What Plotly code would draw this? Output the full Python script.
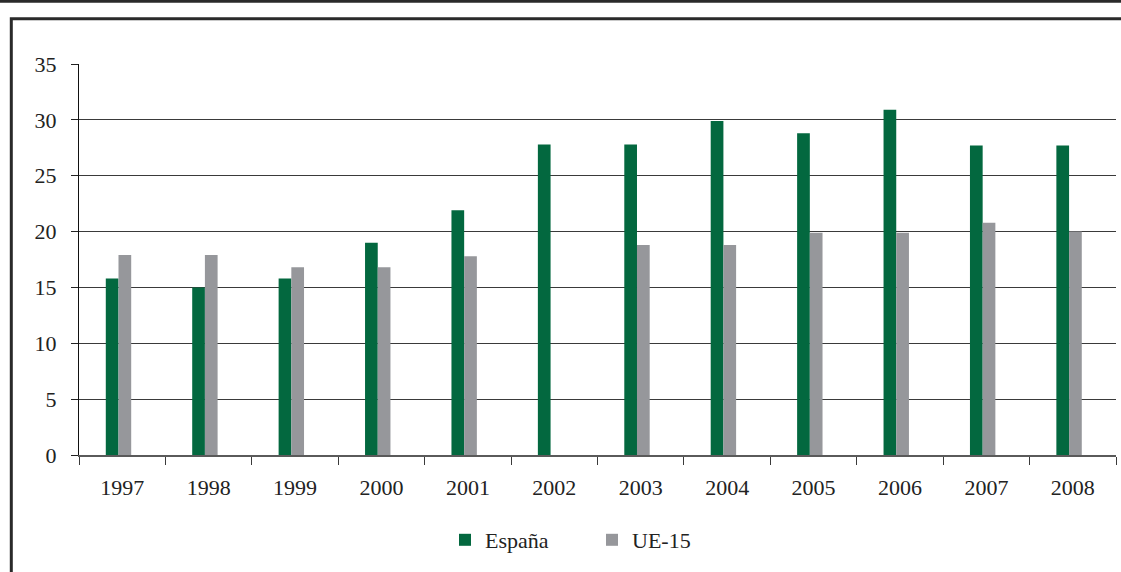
import plotly.graph_objects as go

years = ["1997", "1998", "1999", "2000", "2001", "2002", "2003", "2004",
         "2005", "2006", "2007", "2008"]
espana = [15.8, 15.0, 15.8, 19.0, 21.9, 27.8, 27.8, 29.9, 28.8, 30.9, 27.7, 27.7]
ue15 = [17.9, 17.9, 16.8, 16.8, 17.8, None, 18.8, 18.8, 19.9, 19.9, 20.8, 20.0]
series_names = ["España", "UE-15"]
y_ticks = [0, 5, 10, 15, 20, 25, 30, 35]

W, H = 1121, 572
L, R, T, B = 79, 5, 64, 117
PW, PH = W - L - R, H - T - B


def px(x):
    return (x - L) / PW


def py(y):
    return (H - B - y) / PH


FONT = "Liberation Serif"
FS = 22

fig = go.Figure()
fig.add_trace(go.Bar(x=years, y=espana, name=series_names[0],
                     marker=dict(color="#03683F", line=dict(width=0)),
                     width=0.147, offset=-0.19))
fig.add_trace(go.Bar(x=years, y=ue15, name=series_names[1],
                     marker=dict(color="#96979B", line=dict(width=0)),
                     width=0.147, offset=-0.043))

# decorative frame
fig.add_shape(type="line", xref="paper", yref="paper",
              x0=px(-5), x1=px(W + 5), y0=py(1.3), y1=py(1.3),
              line=dict(color="#2a2a2a", width=3))
fig.add_shape(type="path", xref="paper", yref="paper",
              path=f"M {px(11.3)} {py(H + 10)} L {px(11.3)} {py(18.7)} L {px(W + 10)} {py(18.7)}",
              line=dict(color="#2a2a2a", width=3))

fig.update_layout(
    width=W, height=H,
    margin=dict(l=L, r=R, t=T, b=B),
    paper_bgcolor="white", plot_bgcolor="white",
    barmode="overlay",
    font=dict(family=FONT, size=FS, color="#222222"),
    showlegend=True,
    legend=dict(orientation="h", x=px(445), xanchor="left",
                y=py(540), yanchor="middle",
                font=dict(family=FONT, size=FS, color="#222222"),
                entrywidth=102, bgcolor="rgba(0,0,0,0)"),
    xaxis=dict(type="category", showgrid=False, showline=True,
               linecolor="#5a5a5a", linewidth=1.6,
               ticks="outside", ticklen=8, tickcolor="#3a3a3a", tickwidth=1.3,
               tickson="boundaries", ticklabelstandoff=12,
               tickfont=dict(family=FONT, size=FS, color="#222222"),
               range=[-0.5, 11.5], fixedrange=True),
    yaxis=dict(range=[0, 35], tickvals=y_ticks, showgrid=True,
               gridcolor="#3a3a3a", gridwidth=1.3, zeroline=False,
               showline=True, linecolor="#111111", linewidth=1.2,
               ticks="outside", ticklen=7, tickcolor="#222222", tickwidth=1.2,
               ticklabelstandoff=10,
               tickfont=dict(family=FONT, size=FS, color="#222222"),
               fixedrange=True),
)

fig.write_html("out.html", config={"displayModeBar": False},
               post_script="document.body.style.margin='0';document.body.style.overflow='hidden';")
